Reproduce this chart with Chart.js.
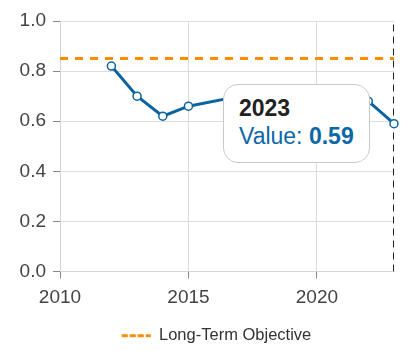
<!doctype html>
<html lang="en">
<head>
  <meta charset="utf-8">
  <title>Long-Term Objective</title>
  <script src="https://cdn.jsdelivr.net/npm/chart.js@4"></script>
  <style>
    html, body { margin: 0; padding: 0; background: #fff; }
    #wrap { position: relative; width: 419px; height: 354px; }
    #tip {
      position: absolute;
      display: none;
      background: #fff;
      border: 1px solid #c9c9c9;
      border-radius: 15px;
      padding: 9px 15px 12px 15px;
      font-family: "Liberation Sans", Arial, sans-serif;
      font-size: 23px;
      line-height: 28px;
      white-space: nowrap;
    }
    #tip .title { font-weight: bold; color: #222; }
    #tip .body { color: #0b67a6; }
    #tip .body b { font-weight: bold; }
  </style>
</head>
<body>
<div id="wrap">
  <canvas id="chart" width="419" height="354"></canvas>
  <div id="tip"></div>
</div>
<script>
  const years = [2012, 2013, 2014, 2015, 2017, 2018, 2019, 2020, 2021, 2022, 2023]
  const values = [0.82, 0.70, 0.62, 0.66, 0.70, 0.71, 0.70, 0.71, 0.69, 0.68, 0.59]
  const objective = 0.85
  const xRange = [2010, 2023]
  const yTicks = [0, 0.2, 0.4, 0.6, 0.8, 1.0]
  const highlightYear = 2023

  const blue = '#0b64a0'
  const orange = '#ff8c00'
  const font = "'Liberation Sans', Arial, sans-serif"

  const seriesData = years.map((x, i) => ({x, y: values[i]}))
  const objectiveData = xRange.map(x => ({x, y: objective}))
  const markerData = [{x: highlightYear, y: yTicks[0]}, {x: highlightYear, y: yTicks[yTicks.length - 1]}]

  function externalTip(context) {
    const tip = document.getElementById('tip')
    const model = context.tooltip
    if (model.opacity === 0 || !model.dataPoints || !model.dataPoints.length) {
      tip.style.display = 'none'
      return
    }
    const p = model.dataPoints[0].raw
    tip.innerHTML = '<div class="title">' + p.x + '</div>' +
      '<div class="body">Value: <b>' + p.y.toFixed(2) + '</b></div>'
    tip.style.display = 'block'
    const w = tip.offsetWidth, h = tip.offsetHeight
    tip.style.left = (model.caretX - 24 - w) + 'px'
    tip.style.top = (model.caretY - h / 2) + 'px'
  }

  const chart = new Chart(document.getElementById('chart'), {
    type: 'line',
    data: {
      datasets: [
        {
          label: 'Value',
          data: seriesData,
          borderColor: blue,
          borderWidth: 3,
          pointRadius: 4,
          pointBorderWidth: 1.5,
          pointBackgroundColor: '#fff',
          pointBorderColor: blue,
          order: 0,
          clip: false,
        },
        {
          label: 'Long-Term Objective',
          data: objectiveData,
          borderColor: orange,
          borderWidth: 3,
          borderDash: [8, 7],
          pointRadius: 0,
          order: 2,
        },
        {
          label: 'marker',
          data: markerData,
          borderColor: '#222',
          borderWidth: 2,
          borderDash: [7, 5],
          pointRadius: 0,
          order: 1,
        },
      ]
    },
    options: {
      responsive: false,
      animation: false,
      events: [],
      layout: {
        padding: {left: 14, right: 0, top: 21, bottom: 0}
      },
      scales: {
        x: {
          type: 'linear',
          min: xRange[0],
          max: xRange[1],
          afterFit: s => { s.height = 46 },
          ticks: {
            stepSize: 5,
            includeBounds: false,
            padding: 8,
            color: '#444',
            font: {family: font, size: 19},
            callback: v => String(v),
          },
          grid: {color: '#dcdcdc', tickColor: '#888', tickLength: 7},
          border: {color: '#d4d4d4'},
        },
        y: {
          min: yTicks[0],
          max: yTicks[yTicks.length - 1],
          afterFit: s => { s.width = 46 },
          afterBuildTicks: s => { s.ticks = yTicks.map(value => ({value})) },
          ticks: {
            padding: 7,
            color: '#444',
            font: {family: font, size: 19},
            callback: v => v.toFixed(1),
          },
          grid: {color: '#dcdcdc', tickColor: '#888', tickLength: 7},
          border: {color: '#d4d4d4'},
        },
        // empty right-hand axis, only keeps the right margin of the plot
        gutter: {
          position: 'right',
          min: 0,
          max: 1,
          afterFit: s => { s.width = 25 },
          ticks: {display: false},
          grid: {display: false},
          border: {display: false},
        }
      },
      plugins: {
        legend: {
          position: 'bottom',
          labels: {
            color: '#333',
            font: {family: font, size: 16.5},
            usePointStyle: true,
            pointStyle: 'line',
            pointStyleWidth: 29,
            filter: item => item.text === 'Long-Term Objective',
            generateLabels: c => Chart.defaults.plugins.legend.labels.generateLabels(c)
              .map(item => Object.assign(item, {lineDash: [6, 2], lineWidth: 3})),
          }
        },
        tooltip: {
          enabled: false,
          external: externalTip,
        }
      }
    }
  })

  chart.tooltip.setActiveElements([{datasetIndex: 0, index: years.indexOf(highlightYear)}], {x: 0, y: 0})
  chart.update()
</script>
</body>
</html>
